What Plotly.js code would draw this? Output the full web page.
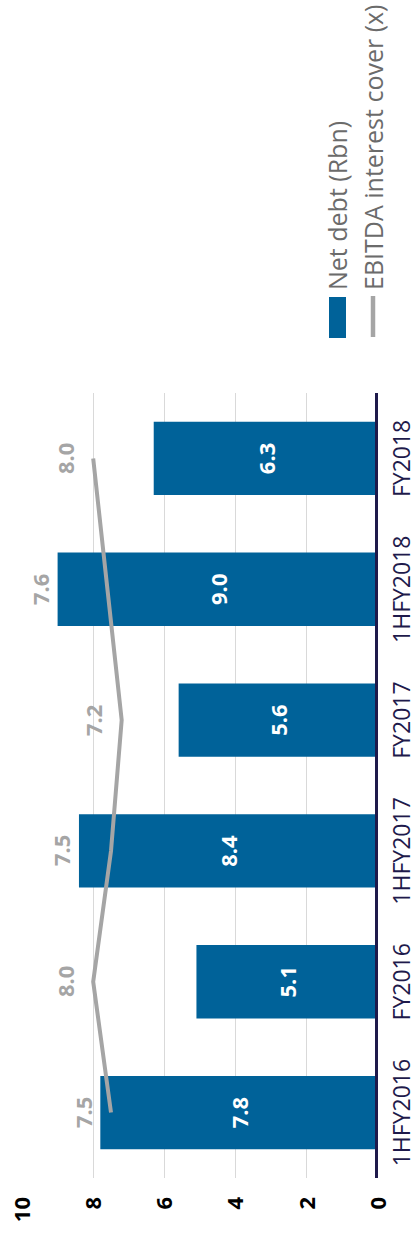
<!DOCTYPE html>
<html>
<head>
<meta charset="utf-8">
<script src="https://cdn.plot.ly/plotly-3.0.1.min.js"></script>
<style>
  html, body { margin: 0; padding: 0; width: 417px; height: 1245px; overflow: hidden; background: #ffffff; }
  #chart {
    position: absolute; left: 0; top: 0;
    width: 1245px; height: 417px;
    transform-origin: 0 0;
    transform: translate(0px, 1245px) rotate(-90deg);
  }
</style>
</head>
<body>
<div id="chart"></div>
<script>
// ---- data ----
const categories = ["1HFY2016", "FY2016", "1HFY2017", "FY2017", "1HFY2018", "FY2018"];
const netDebt = [7.8, 5.1, 8.4, 5.6, 9.0, 6.3];
const interestCover = [7.5, 8.0, 7.5, 7.2, 7.6, 8.0];
const seriesNames = ["Net debt (Rbn)", "EBITDA interest cover (x)"];
const valueTicks = [0, 2, 4, 6, 8, 10];

// ---- styling ----
const W = 1245, H = 417;
const M = { l: 67, r: 393, t: 22, b: 39 };
const plotW = W - M.l - M.r, plotH = H - M.t - M.b;
const px2x = (u) => (u - M.l) / plotW;      // pixel (from left) -> paper x
const px2y = (v) => (H - M.b - v) / plotH;  // pixel (from top) -> paper y

const BAR = "#006299";
const LINE = "#A5A5A5";
const NAVY = "#1e1a4b";
const FONT = "Open Sans, Noto Sans, sans-serif";

const traces = [
  {
    type: "bar",
    x: categories,
    y: netDebt,
    name: seriesNames[0],
    marker: { color: BAR, line: { width: 0 } },
    texttemplate: "%{y:.1f}",
    textposition: "inside",
    insidetextanchor: "middle",
    textangle: 0,
    constraintext: "none",
    textfont: { family: FONT, size: 22, color: "#ffffff", weight: "bold" },
    showlegend: false,
    hoverinfo: "skip"
  },
  {
    type: "scatter",
    mode: "lines",
    x: categories,
    y: interestCover,
    name: seriesNames[1],
    line: { color: LINE, width: 4 },
    cliponaxis: false,
    showlegend: false,
    hoverinfo: "skip"
  }
];

// labels of the line series, placed clear of the bars
const annotations = categories.map((c, i) => ({
  x: c, xref: "x",
  y: Math.max(netDebt[i] + 0.5, interestCover[i] + 0.8), yref: "y",
  text: interestCover[i].toFixed(1),
  showarrow: false,
  xanchor: "center", yanchor: "middle",
  font: { family: FONT, size: 22, color: LINE, weight: "bold" }
}));

// legend (drawn manually to match the wide swatches)
const legendText = { family: FONT, size: 25, color: "#6b6b6b" };
annotations.push({
  x: px2x(953), xref: "paper", y: px2y(337), yref: "paper",
  text: seriesNames[0], showarrow: false, xanchor: "left", yanchor: "middle",
  font: legendText
});
annotations.push({
  x: px2x(953), xref: "paper", y: px2y(373), yref: "paper",
  text: seriesNames[1], showarrow: false, xanchor: "left", yanchor: "middle",
  font: legendText
});

const shapes = [
  // category axis line at zero
  { type: "line", xref: "paper", x0: 0, x1: 1, yref: "y", y0: 0, y1: 0,
    line: { color: NAVY, width: 6 }, layer: "above" },
  // legend swatches
  { type: "rect", xref: "paper", yref: "paper",
    x0: px2x(907), x1: px2x(948), y0: px2y(346), y1: px2y(329),
    fillcolor: BAR, line: { width: 0 } },
  { type: "line", xref: "paper", yref: "paper",
    x0: px2x(908), x1: px2x(949), y0: px2y(373), y1: px2y(373),
    line: { color: LINE, width: 4.5 } }
];

const layout = {
  width: W, height: H,
  margin: { l: M.l, r: M.r, t: M.t, b: M.b, pad: 0, autoexpand: false },
  paper_bgcolor: "#ffffff",
  plot_bgcolor: "#ffffff",
  bargap: 0.44,
  showlegend: false,
  font: { family: FONT },
  xaxis: {
    type: "category",
    categoryorder: "array",
    categoryarray: categories,
    showgrid: false, showline: false, zeroline: false, ticks: "",
    automargin: false,
    ticklabelstandoff: 8,
    tickfont: { family: FONT, size: 23, color: NAVY }
  },
  yaxis: {
    range: [0, 10],
    tickvals: valueTicks,
    ticktext: valueTicks.map(String),
    showgrid: true, gridcolor: "#d9d9d9", gridwidth: 1,
    zeroline: false, showline: false, ticks: "",
    automargin: false,
    ticklabelstandoff: 18,
    tickfont: { family: FONT, size: 22, color: "#000000", weight: "bold" }
  },
  annotations: annotations,
  shapes: shapes
};

Plotly.newPlot("chart", traces, layout, { staticPlot: true, displayModeBar: false });
</script>
</body>
</html>
